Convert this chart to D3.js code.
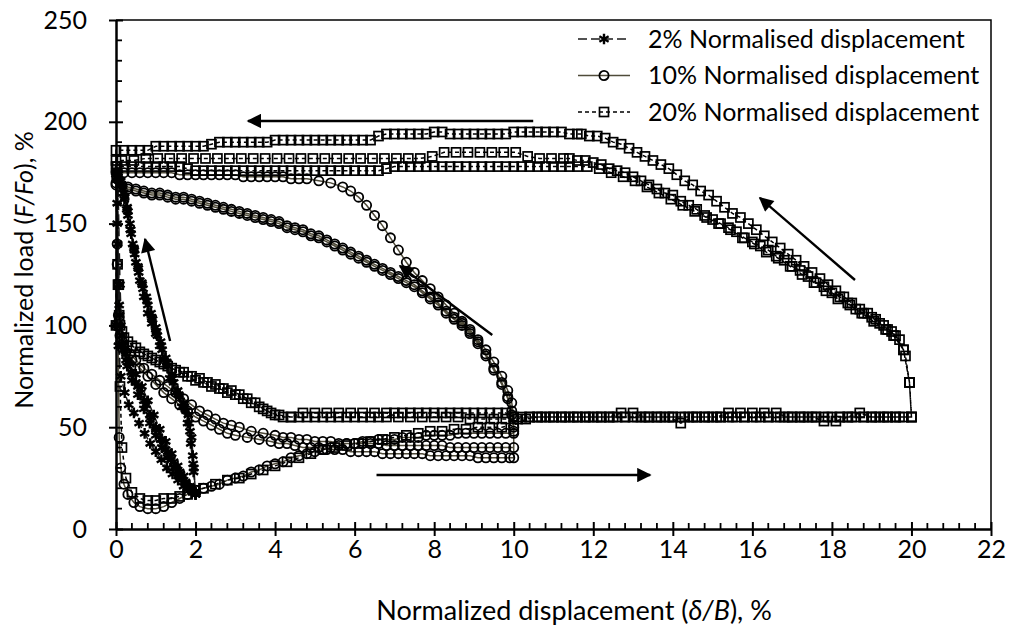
<!DOCTYPE html>
<html>
<head>
<meta charset="utf-8">
<script src="https://cdn.jsdelivr.net/npm/d3@7"></script>
<style>
body{margin:0;background:#fff;}
text{font-family:Lato,"Open Sans",sans-serif;fill:#000;}
</style>
</head>
<body>
<div id="svgContainer"></div>
<script>
// chart size
var svgWidth = 1012, svgHeight = 635;
var margin = {top:20,left:116,right:21,bottom:106};

// axis ticks
var xTicks = [0,2,4,6,8,10,12,14,16,18,20,22];
var yTicks = [0,50,100,150,200,250];

// legend names
var seriesNames = ["2% Normalised displacement","10% Normalised displacement","20% Normalised displacement"];

// 2% normalised displacement (x = delta/B %, y = F/Fo %)
var d2x = [
 [0,100],[0.05,172],
 [0.1,120],[0.15,95],[0.25,86],[0.35,81],[0.5,76],[0.65,70],[0.8,63],[0.95,56],[1.1,49],[1.25,43],[1.4,37],[1.55,31],[1.7,26],[1.85,21],[2,17],
 [1.95,28],[1.88,42],[1.8,52],[1.65,60],[1.5,67],[1.35,74],[1.2,83],[1.1,90],[1,96],[0.9,101],[0.8,106],[0.7,114],[0.6,122],[0.5,131],[0.42,140],[0.35,150],[0.28,158],[0.2,165],[0.12,171],[0.05,175],[0,176],
 [0.03,150],[0.07,120],[0.12,100],[0.2,90],[0.3,82],[0.42,76],[0.55,70],[0.7,63],[0.85,56],[1,50],[1.15,44],[1.3,38],[1.45,33],[1.6,28],[1.75,23],[1.9,19],[2,17],
 [1.96,30],[1.9,45],[1.82,56],[1.7,62],[1.55,68],[1.4,76],[1.25,84],[1.12,92],[1,99],[0.88,106],[0.76,114],[0.65,121],[0.55,129],[0.45,138],[0.37,147],[0.3,156],[0.22,163],[0.14,169],[0.06,174],[0,176],
 [0.04,140],[0.09,105],[0.18,88],[0.28,80],[0.4,73],[0.55,66],[0.7,59],[0.85,52],[1,46],[1.15,40],[1.3,35],[1.45,30],[1.6,26],[1.75,22],[1.9,19],[2,18],
 [1.94,32],[1.86,48],[1.76,58],[1.6,65],[1.45,72],[1.3,80],[1.16,88],[1.04,95],[0.92,103],[0.8,110],[0.68,118],[0.57,126],[0.47,135],[0.38,145],[0.3,154],[0.21,162],[0.12,169],[0.04,173],[0,175],
 [0.03,160],[0.08,110],[0.15,90],[0.25,83],[0.38,77],[0.5,72],[0.62,67],[0.75,61],[0.88,55],[1,49],[1.12,44],[1.25,39],[1.38,34],[1.5,30],[1.62,27],[1.75,23],[1.88,20],[2,18],
 [1.93,36],[1.84,52],[1.72,60],[1.58,66],[1.42,74],[1.28,82],[1.14,90],[1.02,97],[0.9,104],[0.78,112],[0.66,120],[0.56,128],[0.46,137],[0.36,147],[0.27,157],[0.18,165],[0.09,171],[0,174],
 [0.06,90],[0.12,75],[0.22,67],[0.32,61],[0.45,57],[0.58,52],[0.72,47],[0.86,42],[1,38],[1.14,34],[1.28,30],[1.42,27],[1.56,24],[1.7,21],[1.84,19],[2,17]
];

// 10% normalised displacement
var d10x = [
 [0,100],[0.02,172],[0.05,100],[0.08,45],[0.12,30],[0.2,22],[0.3,17],[0.45,13],[0.6,11],[0.8,10],[1,10],[1.2,11],[1.4,13],[1.6,15],[1.8,17],
 [2,19],[2.2,20],[2.4,21],[2.6,22],[2.8,24],[3,25],[3.2,26],[3.4,28],[3.6,29],[3.8,31],[4,32],[4.2,33],[4.4,35],[4.6,36],[4.8,37],[5,38],[5.2,39],[5.4,40],[5.6,41],[5.8,42],[6,42],[6.2,43],[6.4,43],[6.6,44],[6.8,44],[7,44],[7.2,45],[7.4,45],[7.6,45],[7.8,46],[8,46],[8.2,46],[8.4,46],[8.6,47],[8.8,47],[9,47],[9.2,47],[9.4,47],[9.6,47],[9.8,47],[10,47],
 [10,55],[9.95,62],[9.85,68],[9.7,75],[9.5,82],[9.3,88],[9.1,93],[8.9,98],[8.7,102],[8.5,106],[8.3,110],[8.1,114],[7.9,118],[7.7,122],[7.5,126],[7.3,131],[7.1,137],[6.9,143],[6.7,149],[6.5,154],[6.3,159],[6.1,163],[5.9,166],[5.7,168],[5.4,170],[5.1,171],[4.8,172],[4.6,172],
 [4.4,172],[4.2,173],[4,173],[3.8,173],[3.6,173],[3.4,173],[3.2,173],[3,174],[2.8,174],[2.6,174],[2.4,174],[2.2,174],[2,174],[1.8,174],[1.6,174],[1.4,175],[1.2,175],[1,175],[0.8,175],[0.6,175],[0.4,175],[0.2,175],[0,175],
 [0.03,140],[0.06,105],[0.1,95],[0.2,90],[0.35,86],[0.5,83],[0.7,79],[0.9,76],[1.1,73],[1.3,70],[1.5,67],[1.7,64],[1.9,61],[2.1,58],[2.3,56],[2.5,54],[2.7,52],[2.9,51],[3.1,50],[3.4,48],[3.7,47],
 [4,46],[4.2,45],[4.4,45],[4.6,44],[4.8,44],[5,43],[5.2,43],[5.4,43],[5.6,42],[5.8,42],[6,42],[6.2,42],[6.4,42],[6.6,42],[6.8,41],[7,41],[7.2,41],[7.4,41],[7.6,41],[7.8,41],[8,41],[8.2,41],[8.4,40],[8.6,40],[8.8,40],[9,40],[9.2,40],[9.4,40],[9.6,40],[9.8,40],[10,40],
 [10,50],[9.95,58],[9.85,65],[9.7,72],[9.5,79],[9.3,86],[9.1,92],[8.9,97],[8.7,101],[8.5,104],[8.3,107],[8.1,111],[7.9,114],[7.7,117],[7.5,120],[7.3,122],[7.1,124],[6.9,126],[6.7,128],[6.5,130],[6.3,132],[6.1,134],[5.9,136],[5.7,138],[5.5,140],[5.3,142],[5.1,144],[4.9,145],[4.7,147],[4.5,148],[4.3,149],[4.1,151],[3.9,152],[3.7,153],[3.5,154],[3.3,155],[3.1,156],[2.9,157],[2.7,158],[2.5,159],[2.3,160],[2.1,161],[1.9,162],[1.7,163],[1.5,163],[1.3,164],[1.1,165],[0.9,165],[0.7,166],[0.5,167],[0.3,168],[0.15,169],[0,170],
 [0.03,130],[0.07,100],[0.12,92],[0.25,87],[0.4,83],[0.6,79],[0.8,75],[1,71],[1.2,67],[1.4,64],[1.6,61],[1.8,58],[2,55],[2.2,53],[2.4,51],[2.6,49],[2.8,47],[3,46],[3.3,45],[3.6,44],[3.9,43],
 [4.1,42],[4.3,42],[4.5,41],[4.7,40],[4.9,40],[5.1,40],[5.3,39],[5.5,39],[5.7,39],[5.9,38],[6.1,38],[6.3,38],[6.5,38],[6.7,37],[6.9,37],[7.1,37],[7.3,37],[7.5,37],[7.7,37],[7.9,36],[8.1,36],[8.3,36],[8.5,36],[8.7,36],[8.9,36],[9.1,35],[9.3,35],[9.5,35],[9.7,35],[9.9,35],[10,35],
 [10,48],[9.95,56],[9.85,64],[9.7,71],[9.5,78],[9.3,85],[9.1,91],[8.9,96],[8.7,100],[8.5,103],[8.3,106],[8.1,110],[7.9,113],[7.7,116],[7.5,119],[7.3,121],[7.1,123],[6.9,125],[6.7,127],[6.5,129],[6.3,131],[6.1,133],[5.9,135],[5.7,137],[5.5,139],[5.3,141],[5.1,143],[4.9,144],[4.7,146],[4.5,147],[4.3,148],[4.1,150],[3.9,151],[3.7,152],[3.5,153],[3.3,154],[3.1,155],[2.9,156],[2.7,157],[2.5,158],[2.3,159],[2.1,160],[1.9,161],[1.7,162],[1.5,162],[1.3,163],[1.1,164],[0.9,164],[0.7,165],[0.5,166],[0.3,167],[0.15,168],[0,169]
];

// 20% normalised displacement
var d20x = [
 [0,100],[0.03,178],[0.07,120],[0.1,70],[0.15,40],[0.25,25],[0.4,18],[0.6,15],[0.8,14],[1,14],[1.2,15],[1.4,15],[1.6,16],[1.8,17],[2,19],[2.2,20],[2.5,22],[2.8,24],[3.1,25],[3.4,27],[3.7,29],[4,31],[4.3,33],[4.6,35],[4.9,37],[5.2,39],[5.5,40],[5.8,41],[6.1,42],[6.4,43],[6.7,44],[7,45],[7.3,46],[7.6,47],[7.9,48],[8.2,48],[8.5,49],[8.8,49],[9.1,50],[9.4,50],[9.7,50],[10,51],[10.3,54],[10.6,55],[10.9,55],[11.2,55],[11.5,55],[11.8,55],[12.1,55],[12.4,55],[12.7,57],[13,57],[13.3,55],[13.6,55],[13.9,55],[14.2,52],[14.5,55],[14.8,55],[15.1,55],[15.4,57],[15.7,57],[16,57],[16.3,57],[16.6,57],[16.9,55],[17.2,55],[17.5,55],[17.8,53],[18.1,53],[18.4,55],[18.7,57],[19,55],[19.3,55],[19.6,55],[20,55],
 [19.95,72],[19.85,85],[19.7,93],[19.5,97],[19.3,100],[19.1,103],[18.9,106],[18.7,108],[18.5,111],[18.3,114],[18.1,117],[17.9,120],[17.7,123],[17.5,126],[17.3,129],[17.1,132],[16.9,135],[16.7,138],[16.5,141],[16.3,144],[16.1,147],[15.9,150],[15.7,153],[15.5,155],[15.3,158],[15.1,161],[14.9,164],[14.7,166],[14.5,169],[14.3,171],[14.1,174],[13.9,177],[13.7,179],[13.5,181],[13.3,183],[13.1,185],[12.9,187],[12.7,189],[12.5,190],[12.3,192],[12.1,193],[11.9,193],[11.7,194],
 [11.6,194],[11.4,194],[11.2,195],[11,195],[10.8,195],[10.6,195],[10.4,195],[10.2,195],[10,195],[9.8,194],[9.6,194],[9.4,194],[9.2,194],[9,194],[8.8,194],[8.6,194],[8.4,194],[8.2,195],[8,195],[7.8,194],[7.6,194],[7.4,194],[7.2,194],[7,194],[6.8,194],[6.6,193],[6.4,191],[6.2,191],[6,191],[5.8,191],[5.6,191],[5.4,191],[5.2,191],[5,191],[4.8,191],[4.6,191],[4.4,191],[4.2,191],[4,191],[3.8,190],[3.6,190],[3.4,190],[3.2,190],[3,190],[2.8,190],[2.6,190],[2.4,189],[2.2,188],[2,188],[1.8,188],[1.6,188],[1.4,188],[1.2,188],[1,188],[0.8,186],[0.6,186],[0.4,186],[0.2,186],[0,186],
 [0.04,130],[0.08,105],[0.15,97],[0.3,92],[0.5,89],[0.7,86],[0.9,84],[1.1,82],[1.3,80],[1.5,78],[1.7,77],[1.9,75],[2.1,74],[2.3,72],[2.5,71],[2.7,69],[2.9,68],[3.1,66],[3.3,64],[3.5,62],[3.7,59],[3.9,57],[4.1,56],[4.4,55],[4.7,57],[5,57],[5.3,57],[5.6,57],[5.9,57],[6.2,57],[6.5,57],[6.8,57],[7.1,55],[7.4,55],[7.7,55],[8,55],[8.3,55],[8.6,55],[8.9,54],[9.2,54],[9.5,54],[9.8,54],[10.1,54],[10.4,55],[10.7,55],[11,55],[11.3,55],[11.6,55],[11.9,55],[12.2,55],[12.5,55],[12.8,55],[13.1,55],[13.4,55],[13.7,55],[14,55],[14.3,55],[14.6,55],[14.9,55],[15.2,55],[15.5,55],[15.8,55],[16.1,55],[16.4,55],[16.7,55],[17,55],[17.3,55],[17.6,55],[17.9,55],[18.2,55],[18.5,55],[18.8,55],[19.1,55],[19.4,55],[19.7,55],[20,55],
 [19.95,72],[19.8,88],[19.6,95],[19.4,98],[19.2,101],[19,104],[18.8,106],[18.6,108],[18.4,111],[18.2,114],[18,116],[17.8,119],[17.6,121],[17.4,124],[17.2,127],[17,129],[16.8,132],[16.6,134],[16.4,137],[16.2,139],[16,141],[15.8,143],[15.6,146],[15.4,148],[15.2,150],[15,152],[14.8,154],[14.6,157],[14.4,159],[14.2,161],[14,164],[13.8,165],[13.6,167],[13.4,169],[13.2,171],[13,173],[12.8,175],[12.6,176],[12.4,177],[12.2,179],[12,180],[11.8,181],[11.6,181],[11.4,182],
 [11.25,182],[10.95,182],[10.65,182],[10.35,183],[10.05,185],[9.75,185],[9.45,185],[9.15,185],[8.85,185],[8.55,185],[8.25,185],[7.95,183],[7.65,182],[7.35,182],[7.05,182],[6.75,182],[6.45,182],[6.15,182],[5.85,182],[5.55,182],[5.25,182],[4.95,182],[4.65,182],[4.35,182],[4.05,182],[3.75,182],[3.45,182],[3.15,182],[2.85,182],[2.55,182],[2.25,182],[1.95,182],[1.65,182],[1.35,182],[1.05,182],[0.75,182],[0.45,181],[0.15,181],[0,181],
 [0.05,120],[0.1,100],[0.2,94],[0.4,90],[0.6,87],[0.8,85],[1,83],[1.2,81],[1.4,79],[1.6,77],[1.8,75],[2,73],[2.2,72],[2.4,70],[2.6,69],[2.8,67],[3,66],[3.2,64],[3.4,62],[3.6,60],[3.8,58],[4,56],
 [4.2,55],[4.4,55],[4.6,55],[4.8,55],[5,55],[5.2,55],[5.4,55],[5.6,55],[5.8,55],[6,55],[6.2,55],[6.4,55],[6.6,55],[6.8,55],[7,57],[7.2,57],[7.4,57],[7.6,57],[7.8,57],[8,57],[8.2,57],[8.4,57],[8.6,57],[8.8,57],[9,57],[9.2,57],[9.4,57],[9.6,57],[9.8,57],[10,55],[10.2,55],[10.4,55],[10.6,55],[10.8,55],[11,55],[11.2,55],[11.4,55],[11.6,55],[11.8,55],[12,55],[12.2,55],[12.4,55],[12.6,55],[12.8,55],[13,55],[13.2,55],[13.4,55],[13.6,55],[13.8,55],[14,55],[14.2,55],[14.4,55],[14.6,55],[14.8,55],[15,55],[15.2,55],[15.4,55],[15.6,55],[15.8,55],[16,55],[16.2,55],[16.4,55],[16.6,55],[16.8,55],[17,55],[17.2,55],[17.4,55],[17.6,55],[17.8,55],[18,55],[18.2,55],[18.4,55],[18.6,55],[18.8,55],[19,55],[19.2,55],[19.4,55],[19.6,55],[19.8,55],[20,55],
 [19.95,72],[19.8,88],[19.55,95],[19.35,98],[19.05,102],[18.75,106],[18.45,110],[18.15,113],[17.85,117],[17.55,121],[17.25,125],[16.95,129],[16.65,133],[16.35,136],[16.05,140],[15.75,143],[15.45,147],[15.15,150],[14.85,153],[14.55,156],[14.25,159],[13.95,162],[13.65,165],[13.35,168],[13.05,171],[12.75,173],[12.45,175],[12.15,177],[11.85,178],
 [11.6,178],[11.4,178],[11.2,178],[11,178],[10.8,178],[10.6,178],[10.4,178],[10.2,178],[10,178],[9.8,178],[9.6,178],[9.4,178],[9.2,178],[9,178],[8.8,178],[8.6,178],[8.4,178],[8.2,178],[8,178],[7.8,178],[7.6,178],[7.4,178],[7.2,178],[7,178],[6.8,177],[6.6,176],[6.4,176],[6.2,176],[6,176],[5.8,176],[5.6,176],[5.4,176],[5.2,176],[5,176],[4.8,176],[4.6,176],[4.4,176],[4.2,176],[4,176],[3.8,176],[3.6,176],[3.4,176],[3.2,176],[3,176],[2.8,176],[2.6,176],[2.4,176],[2.2,176],[2,176],[1.8,177],[1.6,178],[1.4,178],[1.2,178],[1,178],[0.8,178],[0.6,178],[0.4,178],[0.2,178],[0,178]
];

// direction arrows [x1,y1,x2,y2], head at second point
var arrows = [
 [6.55,26.5,13.43,26.5],
 [10.49,200.4,3.32,200.4],
 [18.58,122.3,16.19,162.6],
 [9.46,95.3,7.14,129.2],
 [1.36,92.3,0.73,142.4]
];

var svg = d3.select("#svgContainer").append("svg")
    .attr("width",svgWidth)
    .attr("height",svgHeight);

var x = d3.scaleLinear().domain([0,22]).range([margin.left, svgWidth - margin.right]);
var y = d3.scaleLinear().domain([0,250]).range([svgHeight - margin.bottom, margin.top]);

svg.append("defs").append("marker")
    .attr("id","head")
    .attr("viewBox","0 0 10 10")
    .attr("refX",9).attr("refY",5)
    .attr("markerWidth",7).attr("markerHeight",6)
    .attr("markerUnits","strokeWidth")
    .attr("orient","auto")
    .append("path").attr("d","M0,0L10,5L0,10z").attr("fill","#000");

// frame top / right
svg.append("path")
    .attr("d","M"+x(0)+","+y(250)+"H"+x(22)+"V"+y(0))
    .attr("fill","none").attr("stroke","#000").attr("stroke-width",1.5);

var line = d3.line().x(function(d){return x(d[0]);}).y(function(d){return y(d[1]);});

// series: 10%, 20%, 2%
var series = [
  {data:d10x, stroke:"#4f4b3a", dash:null, sym:"circle"},
  {data:d20x, stroke:"#000", dash:"4,3", sym:"square"},
  {data:d2x, stroke:"#1a1a1a", dash:"9,4", sym:"star"}
];

function drawMarker(g, sym, cx, cy){
  if(sym=="circle"){
    g.append("circle").attr("cx",cx).attr("cy",cy).attr("r",4.6)
      .attr("fill","none").attr("stroke","#000").attr("stroke-width",1.8);
  } else if(sym=="square"){
    g.append("rect").attr("x",cx-4.5).attr("y",cy-4.5).attr("width",9).attr("height",9)
      .attr("fill","none").attr("stroke","#000").attr("stroke-width",1.7);
  } else {
    g.append("path").attr("transform","translate("+cx+","+cy+")")
      .attr("d",d3.symbol(d3.symbolAsterisk,80)())
      .attr("fill","none").attr("stroke","#000").attr("stroke-width",2.4);
  }
}

series.forEach(function(s){
  var g = svg.append("g");
  g.append("path")
    .attr("d",line(s.data))
    .attr("fill","none")
    .attr("stroke",s.stroke)
    .attr("stroke-width",1.5)
    .attr("stroke-dasharray",s.dash);
  s.data.forEach(function(d){ drawMarker(g, s.sym, x(d[0]), y(d[1])); });
});

// arrows
svg.append("g").selectAll("line")
    .data(arrows).enter().append("line")
    .attr("x1",function(d){return x(d[0]);})
    .attr("y1",function(d){return y(d[1]);})
    .attr("x2",function(d){return x(d[2]);})
    .attr("y2",function(d){return y(d[3]);})
    .attr("stroke","#000").attr("stroke-width",2.4)
    .attr("marker-end","url(#head)");

// y axis
var yAxis = svg.append("g")
    .attr("transform","translate("+margin.left+",0)")
    .call(d3.axisLeft(y).tickValues(yTicks).tickSizeInner(7).tickSizeOuter(0).tickPadding(22));
yAxis.select(".domain").attr("stroke-width",2.5);
yAxis.selectAll(".tick line").attr("x1",7).attr("stroke-width",2);
yAxis.selectAll(".tick text").attr("font-size",25).attr("font-family","Lato");
yAxis.selectAll(".minor").data(d3.range(10,250,10).filter(function(v){return v%50!=0;}))
    .enter().append("line").attr("class","minor")
    .attr("x1",0).attr("x2",6)
    .attr("y1",function(d){return y(d);}).attr("y2",function(d){return y(d);})
    .attr("stroke","#000").attr("stroke-width",1.8);

// x axis
var xAxis = svg.append("g")
    .attr("transform","translate(0,"+y(0)+")")
    .call(d3.axisBottom(x).tickValues(xTicks).tickSizeInner(7).tickSizeOuter(0).tickPadding(4));
xAxis.select(".domain").attr("stroke-width",2.5);
xAxis.selectAll(".tick line").attr("y1",-7).attr("stroke-width",2);
xAxis.selectAll(".tick text").attr("font-size",25).attr("font-family","Lato");
xAxis.selectAll(".minor").data(d3.range(1,55).map(function(i){return i*0.4;}).filter(function(v){return Math.abs(v/2-Math.round(v/2))>0.01;}))
    .enter().append("line").attr("class","minor")
    .attr("y1",0).attr("y2",-6)
    .attr("x1",function(d){return x(d);}).attr("x2",function(d){return x(d);})
    .attr("stroke","#000").attr("stroke-width",1.8);

// axis titles
var xt = svg.append("text")
    .attr("x",574)
    .attr("y",620)
    .attr("text-anchor","middle")
    .attr("font-size",27);
xt.append("tspan").text("Normalized displacement (");
xt.append("tspan").attr("font-style","italic").text("δ/B");
xt.append("tspan").text("), %");

var yt = svg.append("text")
    .attr("transform","translate(33,270) rotate(-90)")
    .attr("text-anchor","middle")
    .attr("font-size",25);
yt.append("tspan").text("Normalized load (");
yt.append("tspan").attr("font-style","italic").text("F/Fo");
yt.append("tspan").text("), %");

// legend
var legendOrder = [2,0,1];
legendOrder.forEach(function(si,i){
  var s = series[si];
  var g = svg.append("g").attr("transform","translate(0,"+(39 + i*36.5)+")");
  g.append("line").attr("x1",578).attr("x2",630).attr("y1",0).attr("y2",0)
    .attr("stroke",s.stroke).attr("stroke-width",1.5).attr("stroke-dasharray",s.dash);
  drawMarker(g, s.sym, 604, 0);
  g.append("text").attr("x",648).attr("y",0).attr("dy","0.35em")
    .attr("font-size",25).text(seriesNames[i]);
});
</script>
</body>
</html>
